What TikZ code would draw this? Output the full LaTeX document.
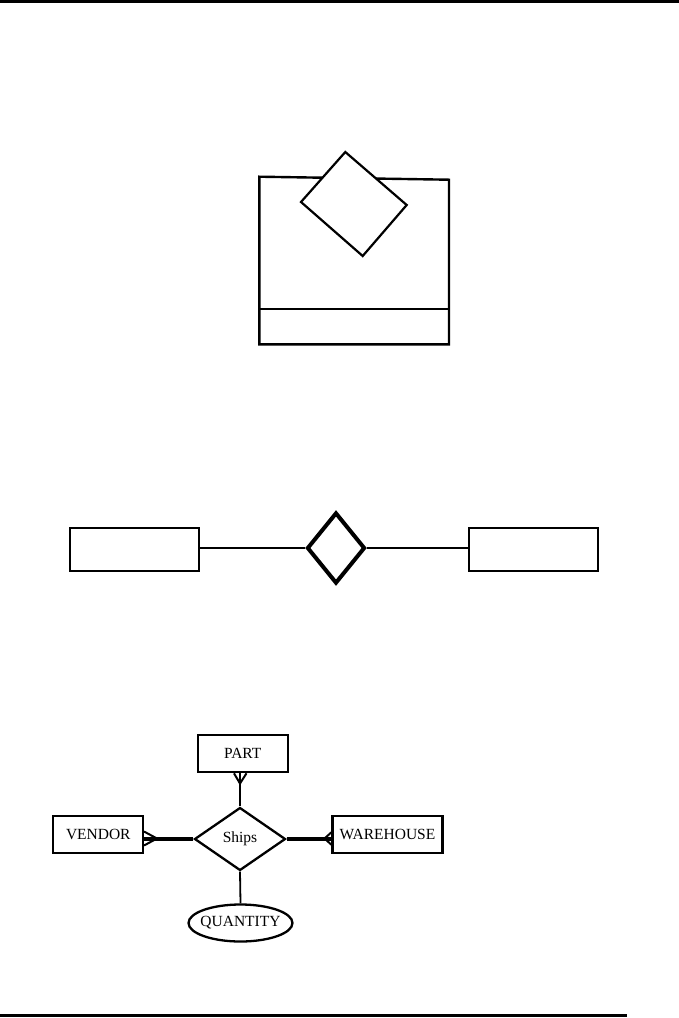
\documentclass[tikz,border=0pt]{standalone}
\usepackage{fontspec}
\setmainfont{Liberation Serif}
\usetikzlibrary{shapes.geometric}
\begin{document}
\begin{tikzpicture}[x=1pt,y=-1pt,
  rulebar/.style={line width=2.8pt},
  bigbox/.style={draw,line width=2.6pt,rectangle,inner sep=0pt,minimum width=129pt,minimum height=43pt},
  bigdia/.style={draw,line width=4pt,diamond,inner sep=0pt,minimum width=58pt,minimum height=71pt},
  thinlink/.style={line width=1.3pt},
  erfont/.style={font=\fontsize{15.5}{18}\selectfont},
  erbox/.style={draw,line width=2.3pt,rectangle,inner sep=0pt,minimum height=37pt,erfont},
  erdia/.style={draw,line width=2.3pt,diamond,inner sep=0pt,minimum width=91pt,minimum height=63pt,erfont},
  erell/.style={draw,line width=2.3pt,ellipse,inner sep=0pt,minimum width=104pt,minimum height=37pt,erfont},
  heavylink/.style={line width=3.8pt},
  foot/.style={line width=2pt}
]
\useasboundingbox (0,0) rectangle (679,1018);
% page rules
\draw[rulebar] (0,1.4) -- (679,1.4);
\draw[rulebar] (0,1015.6) -- (627,1015.6);

% top figure: box with overlapping tilted diamond
\draw[line width=2.4pt] (259.3,176.7) -- (449,179.7) -- (449,344.3) -- (259.3,344.3) -- cycle;
\draw[line width=2.4pt] (259.3,309) -- (449,309);
\draw[line width=2.2pt,fill=white] (345.3,152) -- (406.7,205) -- (362.7,256) -- (301,202) -- cycle;

% middle figure
\node[bigbox] (L) at (134.5,549.5) {};
\node[bigbox] (R) at (533.5,549.5) {};
\node[bigdia] (D) at (336,548) {};
\draw[thinlink] (L.east |- D.west) -- (D.west);
\draw[thinlink] (D.east) -- (R.west |- D.east);

% bottom ER figure
\node[erbox,minimum width=90pt] (part) at (242.7,753.5) {PART};
\node[erbox,minimum width=90pt] (vendor) at (98.3,834.2) {VENDOR};
\node[erbox,minimum width=110pt] (wh) at (387.5,834.2) {WAREHOUSE};
\node[erdia] (ships) at (240,839) {\raisebox{-2pt}{Ships}};
\node[erell] (qty) at (240.5,923) {\makebox[0pt]{QUANTITY}};

% PART -- Ships with crow's foot at PART
\coordinate (pf) at (240,783.5);
\draw[line width=1.8pt] (ships.north) -- (240,773.3);
\draw[foot] (pf) -- (234,773.3);
\draw[foot] (pf) -- (246.5,773.3);

% VENDOR -- Ships
\coordinate (vf) at (157,838.5);
\draw[heavylink] (ships.west) -- (vendor.east |- ships.west);
\draw[foot] (vf) -- (144,831.5);
\draw[foot] (vf) -- (144,845.5);

% WAREHOUSE -- Ships
\coordinate (wf) at (324.5,838.5);
\draw[heavylink] (ships.east) -- (wh.west |- ships.east);
\draw[foot] (wf) -- (332.3,831.5);
\draw[foot] (wf) -- (332.3,845.5);

% Ships -- QUANTITY
\draw[line width=1.8pt] (ships.south) -- (qty.north);
\end{tikzpicture}
\end{document}
